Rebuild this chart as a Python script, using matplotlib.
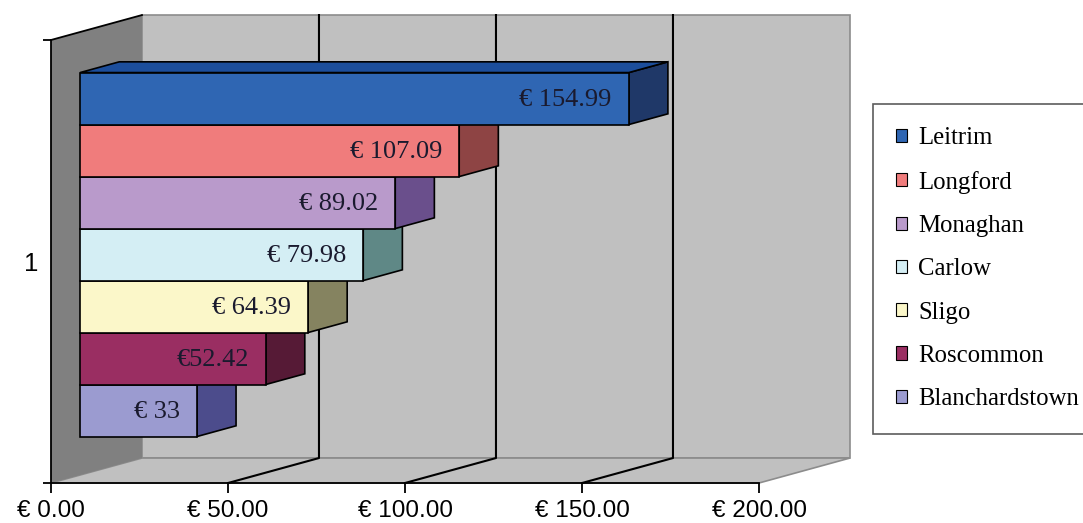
import matplotlib
matplotlib.use('Agg')
import matplotlib.pyplot as plt
from matplotlib.patches import Polygon, Patch

# chart data (top to bottom as drawn)
regions = ['Leitrim', 'Longford', 'Monaghan', 'Carlow', 'Sligo',
           'Roscommon', 'Blanchardstown']
values = [154.99, 107.09, 89.02, 79.98, 64.39, 52.42, 33.0]
value_labels = ['€ 154.99', '€ 107.09', '€ 89.02', '€ 79.98', '€ 64.39',
                '€52.42', '€ 33']
front_colors = ['#2F66B3', '#F07C7C', '#B99ACB', '#D4EEF4', '#FBF7C9',
                '#9A2E62', '#9B9BD0']
side_colors = ['#1F3868', '#8E4444', '#6A4F8C', '#5F8886', '#858360',
               '#561A36', '#4C4C8C']
top_colors = ['#1C4E9C', '#C86060', '#8F74A8', '#9FC4CC', '#CFCB9C',
              '#74213F', '#7474AE']
x_ticks = [0, 50, 100, 150, 200]
x_tick_labels = ['€ 0.00', '€ 50.00', '€ 100.00', '€ 150.00', '€ 200.00']
category = '1'

# fake 3d geometry (in data units)
H = 8.52          # wall height, in bar heights
DX, DY = 25.7, 0.48   # projection of the full depth
Z0, Z1 = 0.32, 0.75   # depth range of the bars
BASE = 0.74       # gap below the lowest bar


def proj(x, y, z):
    return (x + z * DX, y + z * DY)


W, Hpx = 1083, 523
fig = plt.figure(figsize=(W / 100, Hpx / 100), dpi=100)
ax = fig.add_axes([51 / W, (Hpx - 483) / Hpx, (759 - 51) / W, (483 - 40) / Hpx])
ax.set_xlim(0, 200)
ax.set_ylim(0, H)
ax.set_facecolor('none')

# walls and floor
back = Polygon([proj(0, 0, 1), proj(200, 0, 1), proj(200, H, 1), proj(0, H, 1)],
               closed=True, fc='#C0C0C0', ec='#8C8C8C', lw=1.2, clip_on=False, zorder=1)
side = Polygon([proj(0, 0, 0), proj(0, H, 0), proj(0, H, 1), proj(0, 0, 1)],
               closed=True, fc='#808080', ec='none', clip_on=False, zorder=1)
floor = Polygon([proj(0, 0, 0), proj(200, 0, 0), proj(200, 0, 1), proj(0, 0, 1)],
                closed=True, fc='#C0C0C0', ec='#8C8C8C', lw=1.2, clip_on=False, zorder=1)
for p in (back, floor, side):
    ax.add_patch(p)
ax.plot(*zip(proj(0, H, 0), proj(0, H, 1)), color='black', lw=1.3,
        clip_on=False, zorder=2)

for v in x_ticks[1:-1]:
    pts = [proj(v, 0, 0), proj(v, 0, 1), proj(v, H, 1)]
    ax.plot(*zip(*pts), color='black', lw=1.5, clip_on=False, zorder=2)

# bars, drawn bottom up so the upper bars cover the lower ones
n = len(values)
for k in range(n - 1, -1, -1):
    v = values[k]
    yb = BASE + (n - 1 - k)
    x0, y0 = proj(0, yb, Z0)
    sface = Polygon([proj(v, yb, Z0), proj(v, yb, Z1), proj(v, yb + 1, Z1),
                     proj(v, yb + 1, Z0)], closed=True, fc=side_colors[k],
                    ec='black', lw=1.2, clip_on=False, zorder=3)
    tface = Polygon([proj(0, yb + 1, Z0), proj(v, yb + 1, Z0), proj(v, yb + 1, Z1),
                     proj(0, yb + 1, Z1)], closed=True, fc=top_colors[k],
                    ec='black', lw=1.2, clip_on=False, zorder=3)
    ax.add_patch(sface)
    ax.add_patch(tface)
    ax.barh(y0, v, height=1, left=x0, align='edge', color=front_colors[k],
            edgecolor='black', lw=1.2, zorder=4)
    ax.text(x0 + v - 4.8, y0 + 0.48, value_labels[k], ha='right', va='center',
            fontsize=19, family='Liberation Serif', color='#1a1a2e', zorder=5)

# axes
for s in ('top', 'right'):
    ax.spines[s].set_visible(False)
for s in ('left', 'bottom'):
    ax.spines[s].set_linewidth(1.3)
    ax.spines[s].set_zorder(6)
ax.set_xticks(x_ticks)
ax.set_xticklabels(x_tick_labels, family='Liberation Sans', fontsize=17.5)
ax.tick_params(axis='x', direction='out', length=7, width=1.3, pad=5)
ax.set_yticks([0, H])
ax.set_yticklabels(['', ''])
ax.set_yticks([H / 2], minor=True)
ax.set_yticklabels([category], minor=True, family='Liberation Sans', fontsize=18.5)
ax.tick_params(axis='y', which='major', direction='out', length=6, width=1.3)
ax.tick_params(axis='y', which='minor', length=0, pad=9)

# legend
handles = [Patch(fc=c, ec='black', lw=0.8) for c in front_colors]
leg = fig.legend(handles, regions, loc='upper left',
                 bbox_to_anchor=(873 / W, 1 - 104 / Hpx), borderaxespad=0,
                 prop={'family': 'Liberation Serif', 'size': 17.8},
                 handlelength=0.44, handleheight=0.44, handletextpad=0.45,
                 labelspacing=0.86, borderpad=0.95, fancybox=False,
                 frameon=True, edgecolor='#333333')
leg.get_frame().set_linewidth(1.2)

fig.savefig('out.png', dpi=100)
